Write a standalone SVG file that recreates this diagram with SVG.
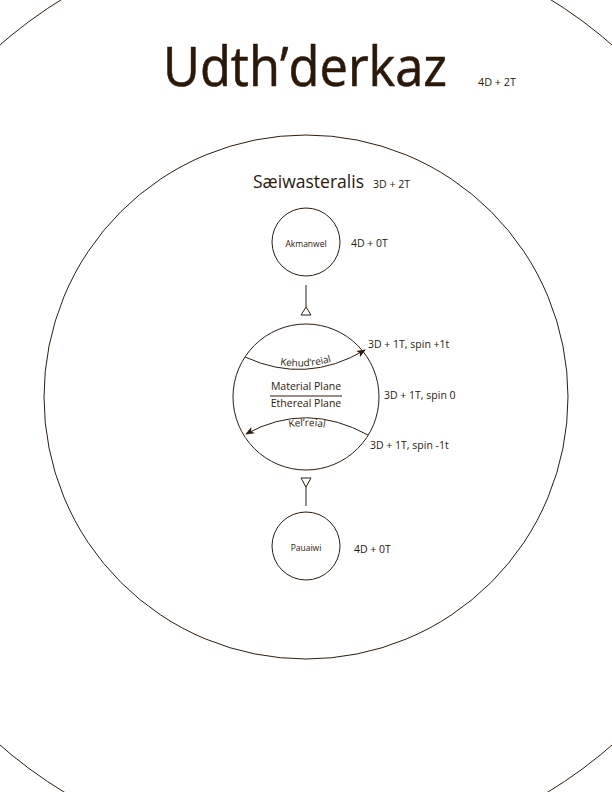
<svg xmlns="http://www.w3.org/2000/svg" width="612" height="792" viewBox="0 0 612 792">
  <style>
    .ln { fill: none; stroke: #2d1d10; stroke-width: 1; }
    .t { font-family: "Open Sans", "Noto Sans", sans-serif; fill: #2a190b; }
    .tp { fill: #2a190b; }
    .lab { font-size: 10.5px; }
  </style>
  <defs>
    <marker id="ah" viewBox="0 0 10 10" refX="9" refY="5" markerWidth="9" markerHeight="9" markerUnits="userSpaceOnUse" orient="auto">
      <path d="M0,1 L10,5 L0,9 L2.5,5 Z" fill="#2d1d10"/>
    </marker>
    <path id="p-keh" d="M245,354 Q306,382 365,347"/>
    <path id="p-kel" d="M250,443 Q306,409 364,443"/>
  </defs>
  <rect width="612" height="792" fill="#ffffff"/>

  <g id="udthderkaz">
    <circle class="ln" cx="306" cy="395" r="465" stroke-width="1.2"/>
    <text class="t" x="163" y="86" font-size="55" textLength="284" lengthAdjust="spacingAndGlyphs" stroke="#2a190b" stroke-width="0.6">Udth’derkaz</text>
    <text class="t" x="478" y="86" font-size="10" textLength="38" lengthAdjust="spacingAndGlyphs">4D + 2T</text>
  </g>

  <g id="saeiwasteralis">
    <circle class="ln" cx="306" cy="397" r="262"/>
    <text class="t" x="253" y="188" font-size="18" textLength="111" lengthAdjust="spacingAndGlyphs">Sæiwasteralis</text>
    <text class="t" x="373" y="188" font-size="10.5" textLength="37" lengthAdjust="spacingAndGlyphs">3D + 2T</text>
  </g>

  <g id="akmanwel">
    <circle class="ln" cx="306" cy="242" r="34"/>
    <text class="t" x="306" y="247" font-size="8.5" text-anchor="middle">Akmanwel</text>
    <text class="t lab" x="351" y="247">4D + 0T</text>
  </g>

  <g id="material-ethereal">
    <circle class="ln" cx="306" cy="397" r="73"/>
    <text class="t lab" x="306" y="390" text-anchor="middle">Material Plane</text>
    <line class="ln" x1="270" y1="396" x2="342" y2="396"/>
    <text class="t lab" x="306" y="407" text-anchor="middle">Ethereal Plane</text>
    <text class="t lab" x="368" y="348">3D + 1T, spin +1t</text>
    <text class="t lab" x="384" y="399">3D + 1T, spin 0</text>
    <text class="t lab" x="370" y="449">3D + 1T, spin -1t</text>
  </g>

  <g id="pauaiwi">
    <circle class="ln" cx="306" cy="546" r="34"/>
    <text class="t" x="306" y="551" font-size="8.5" text-anchor="middle">Pauaiwi</text>
    <text class="t lab" x="354" y="553">4D + 0T</text>
  </g>

  <g id="connectors">
    <path class="ln" d="M245,357 Q306,385 365,350" marker-end="url(#ah)"/>
    <text class="t" font-size="10"><textPath class="tp" href="#p-keh" startOffset="50%" text-anchor="middle">Kehud’reial</textPath></text>
    <path class="ln" d="M368,435 Q306,401 246,434" marker-end="url(#ah)"/>
    <text class="t" font-size="10"><textPath class="tp" href="#p-kel" startOffset="50%" text-anchor="middle">Kel’reial</textPath></text>
    <line class="ln" x1="306" y1="285" x2="306" y2="307"/>
    <path class="ln" d="M306,307 L311,315 L301,315 Z" fill="#fff"/>
    <line class="ln" x1="306" y1="487" x2="306" y2="506"/>
    <path class="ln" d="M301,478 L311,478 L306,487 Z" fill="#fff"/>
  </g>
</svg>
